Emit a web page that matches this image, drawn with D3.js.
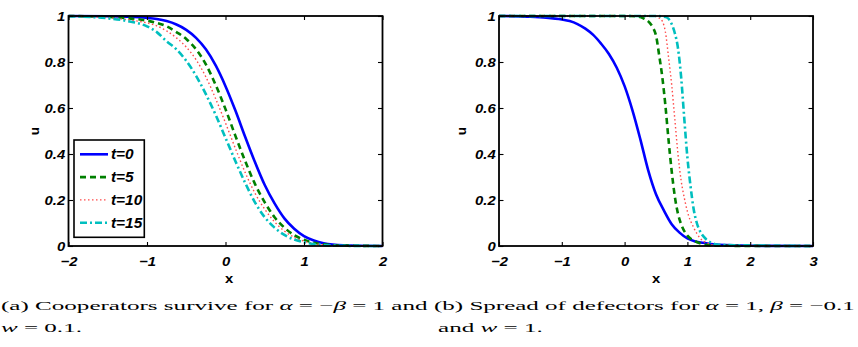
<!DOCTYPE html>
<html>
<head>
<meta charset="utf-8">
<script src="https://cdn.jsdelivr.net/npm/d3@7"></script>
<style>
  body { margin: 0; background: #fff; }
  svg { display: block; }
</style>
</head>
<body>
<svg id="fig" width="858" height="347"></svg>
<script>
/* Two panels of travelling-front profiles u(x) at t = 0, 5, 10, 15,
   MATLAB-style boxes with inward ticks, LaTeX-ish captions below. */

// panel (a): alpha = -beta = 1, w = 0.1  (shared x grid)
var xA = [-2, -1.5, -1.25, -1, -0.875, -0.75, -0.625, -0.5, -0.375, -0.25, -0.125, 0,
          0.125, 0.25, 0.375, 0.5, 0.625, 0.75, 0.875, 1, 1.125, 1.25, 1.5, 2];
var aT0  = [1, 0.999, 0.997, 0.992, 0.987, 0.978, 0.963, 0.94, 0.905, 0.855, 0.785, 0.695,
            0.59, 0.475, 0.365, 0.265, 0.185, 0.12, 0.075, 0.043, 0.024, 0.012, 0.003, 0];
var aT5  = [1, 0.996, 0.99, 0.98, 0.97, 0.955, 0.93, 0.9, 0.855, 0.79, 0.70, 0.595,
            0.48, 0.37, 0.27, 0.19, 0.125, 0.08, 0.047, 0.027, 0.014, 0.007, 0.002, 0];
var aT10 = [1, 0.993, 0.984, 0.97, 0.957, 0.935, 0.905, 0.865, 0.81, 0.735, 0.64, 0.535,
            0.425, 0.32, 0.23, 0.16, 0.105, 0.065, 0.038, 0.021, 0.011, 0.005, 0.001, 0];
var aT15 = [0.999, 0.99, 0.978, 0.955, 0.93, 0.89, 0.855, 0.805, 0.74, 0.66, 0.57, 0.47,
            0.37, 0.275, 0.19, 0.125, 0.08, 0.048, 0.028, 0.016, 0.008, 0.004, 0.001, 0];

// panel (b): alpha = 1, beta = -0.1, w = 1  (each curve read on its own x points)
var bX0  = [-2, -1.5, -1.25, -1, -0.875, -0.75, -0.625, -0.5, -0.375, -0.25, -0.125, 0,
            0.125, 0.25, 0.375, 0.5, 0.625, 0.75, 0.875, 1, 1.125, 1.25, 1.5, 2, 3];
var bU0  = [1, 0.997, 0.993, 0.985, 0.978, 0.965, 0.945, 0.918, 0.88, 0.835, 0.775, 0.695,
            0.59, 0.465, 0.33, 0.225, 0.155, 0.095, 0.058, 0.033, 0.02, 0.014, 0.005, 0.001, 0];
var bX5  = [-2, 0, 0.2, 0.3, 0.4, 0.45, 0.5, 0.55, 0.6, 0.65, 0.7, 0.75, 0.8, 0.85, 0.9, 1.0, 1.1, 1.2, 1.3, 1.5, 3];
var bU5  = [1, 1, 0.998, 0.99, 0.97, 0.95, 0.915, 0.83, 0.735, 0.61, 0.46, 0.325, 0.215, 0.14, 0.095, 0.045, 0.024, 0.012, 0.005, 0.001, 0];
var bX10 = [-2, 0.3, 0.5, 0.55, 0.6, 0.65, 0.7, 0.75, 0.8, 0.85, 0.9, 0.95, 1.0, 1.1, 1.2, 1.3, 1.5, 3];
var bU10 = [1, 1, 0.998, 0.992, 0.978, 0.93, 0.82, 0.70, 0.55, 0.40, 0.285, 0.21, 0.15, 0.08, 0.035, 0.015, 0.003, 0];
var bX15 = [-2, 0.4, 0.6, 0.65, 0.7, 0.75, 0.8, 0.85, 0.9, 0.95, 1.0, 1.05, 1.1, 1.15, 1.2, 1.3, 1.4, 1.5, 3];
var bU15 = [1, 1, 0.999, 0.996, 0.988, 0.965, 0.925, 0.86, 0.735, 0.555, 0.385, 0.26, 0.16, 0.1, 0.065, 0.029, 0.012, 0.005, 0];

var xTicksA = [-2, -1, 0, 1, 2];
var xTicksB = [-2, -1, 0, 1, 2, 3];
var yTicks = [0, 0.2, 0.4, 0.6, 0.8, 1];
var legendLabels = ["t=0", "t=5", "t=10", "t=15"];

// caption pieces: [text, italic]
var capA1 = [["(a) Cooperators survive for ", 0], ["α", 1], [" = −", 0], ["β", 1], [" = 1 and", 0]];
var capA2 = [["w", 1], [" = 0.1.", 0]];
var capB1 = [["(b) Spread of defectors for ", 0], ["α", 1], [" = 1, ", 0], ["β", 1], [" = −0.1", 0]];
var capB2 = [["and ", 0], ["w", 1], [" = 1.", 0]];

var STYLE = [
  { color: "#0000ff", w: 2.6, dash: null },
  { color: "#008000", w: 2.6, dash: "6,4" },
  { color: "#ff4a4a", w: 1.4, dash: "1.5,2.5" },
  { color: "#00bfbf", w: 2.6, dash: "7,3,2,3" }
];
var SX = 1.1;            // the scan is stretched a bit sideways
var SANS = "Liberation Sans";
var SERIF = "Liberation Serif";

var svg = d3.select("#fig");

function minus(d) { return (d < 0 ? "−" : "") + Math.abs(d); }
function pairs(xs, us) { return xs.map(function (v, k) { return [v, us[k]]; }); }

function panel(L, R, T, B, xdom, xticks, series, withLegend, xlabDx, ylabDx) {
  var x = d3.scaleLinear().domain(xdom).range([L, R]);
  var y = d3.scaleLinear().domain([0, 1]).range([B, T]);
  var g = svg.append("g");

  var line = d3.line().curve(d3.curveMonotoneX)
    .x(function (d) { return x(d[0]); }).y(function (d) { return y(d[1]); });
  series.forEach(function (pts, i) {
    var st = STYLE[i];
    g.append("path").attr("d", line(pts))
      .attr("fill", "none").attr("stroke", st.color).attr("stroke-width", st.w)
      .attr("stroke-dasharray", st.dash);
  });

  // box
  g.append("rect").attr("x", L).attr("y", T).attr("width", R - L).attr("height", B - T)
    .attr("fill", "none").attr("stroke", "#000").attr("stroke-width", 1.8);

  var gb = g.append("g").attr("transform", "translate(0," + B + ")")
    .call(d3.axisBottom(x).tickValues(xticks).tickSizeInner(-4).tickSizeOuter(0).tickPadding(10).tickFormat(minus));
  var gt = g.append("g").attr("transform", "translate(0," + T + ")")
    .call(d3.axisTop(x).tickValues(xticks).tickSizeInner(-4).tickSizeOuter(0).tickFormat(""));
  var gl = g.append("g").attr("transform", "translate(" + L + ",0)")
    .call(d3.axisLeft(y).tickValues(yTicks).tickSizeInner(-4.5).tickSizeOuter(0).tickPadding(3).tickFormat(d3.format("~g")));
  var gr = g.append("g").attr("transform", "translate(" + R + ",0)")
    .call(d3.axisRight(y).tickValues(yTicks).tickSizeInner(-4.5).tickSizeOuter(0).tickFormat(""));
  [gb, gt, gl, gr].forEach(function (a) {
    a.select(".domain").remove();
    a.selectAll("line").attr("stroke", "#000").attr("stroke-width", 1.1);
    a.selectAll("text").attr("fill", "#000")
      .attr("font-family", SANS).attr("font-size", 13.5)
      .attr("font-weight", "bold").attr("font-style", "italic")
      .attr("transform", "scale(" + SX + ",1)");
  });

  // axis names
  g.append("text").attr("transform", "translate(" + ((L + R) / 2 + xlabDx) + "," + (B + 37) + ") scale(" + SX + ",1)")
    .attr("text-anchor", "middle").attr("font-family", SANS).attr("font-size", 13.5)
    .attr("font-weight", "bold").text("x");
  g.append("text").attr("transform", "translate(" + (L - ylabDx) + "," + ((T + B) / 2) + ") rotate(-90)")
    .attr("text-anchor", "middle").attr("font-family", SANS).attr("font-size", 13.5)
    .attr("font-weight", "bold").text("u");

  if (withLegend) {
    var lx = L + 5.5, ly = B - 106, lw = 70.3, lh = 97.3;
    var lg = g.append("g");
    lg.append("rect").attr("x", lx).attr("y", ly).attr("width", lw).attr("height", lh)
      .attr("fill", "#fff").attr("stroke", "#000").attr("stroke-width", 1.6);
    legendLabels.forEach(function (lab, i) {
      var st = STYLE[i], yy = ly + 14.3 + i * 22.8;
      lg.append("line").attr("x1", lx + 6).attr("x2", lx + 34).attr("y1", yy).attr("y2", yy)
        .attr("stroke", st.color).attr("stroke-width", st.w).attr("stroke-dasharray", st.dash);
      lg.append("text").attr("transform", "translate(" + (lx + 37) + "," + (yy + 5) + ") scale(" + SX + ",1)")
        .attr("font-family", SANS).attr("font-size", 14)
        .attr("font-weight", "bold").attr("font-style", "italic").text(lab);
    });
  }
}

function caption(parts, x0, base, width) {
  var t = svg.append("text").attr("x", 0).attr("y", 0)
    .attr("font-family", SERIF).attr("font-size", 13.5).attr("fill", "#000")
    .attr("xml:space", "preserve");
  parts.forEach(function (p) {
    t.append("tspan").attr("font-style", p[1] ? "italic" : "normal").text(p[0]);
  });
  var w = t.node().getComputedTextLength();
  t.attr("transform", "translate(" + x0 + "," + base + ") scale(" + (width / w) + ",1)");
}

panel(68.5, 382.5, 16, 246, [-2, 2], xTicksA,
  [pairs(xA, aT0), pairs(xA, aT5), pairs(xA, aT10), pairs(xA, aT15)], true, 3.5, 30);
panel(499, 813, 16, 246, [-2, 3], xTicksB,
  [pairs(bX0, bU0), pairs(bX5, bU5), pairs(bX10, bU10), pairs(bX15, bU15)], false, 0, 33.5);

caption(capA1, 1, 310, 427);
caption(capA2, 1, 332, 81);
caption(capB1, 434, 310, 421);
caption(capB2, 438, 332, 105);
</script>
</body>
</html>
